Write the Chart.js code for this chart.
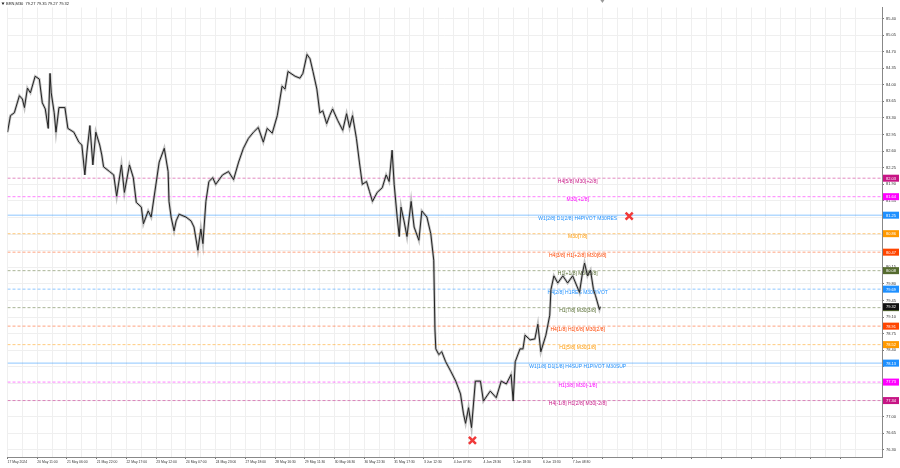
<!DOCTYPE html>
<html>
<head>
<meta charset="utf-8">
<script src="https://cdn.jsdelivr.net/npm/chart.js@4.4.1/dist/chart.umd.min.js"></script>
<style>
html, body { margin: 0; padding: 0; background: #fff; }
#wrap { width: 900px; height: 468px; }
</style>
</head>
<body>
<div id="wrap"><canvas id="c"></canvas></div>
<script>
// time labels, one every 16 trading hours (1 slot)
const timeLabels = ['17 May 2024', '20 May 11:00', '21 May 06:00', '21 May 22:00', '22 May 17:00',
    '23 May 12:00', '24 May 07:00', '24 May 23:00', '27 May 18:00', '28 May 16:30', '29 May 11:30',
    '30 May 06:30', '30 May 22:30', '31 May 17:30', '3 Jun 12:30', '4 Jun 07:30', '4 Jun 23:30',
    '5 Jun 18:30', '6 Jun 13:30', '7 Jun 08:30'];

// BRN M30 price path (slot position, price)
const barSlot = [0, 0.10, 0.23, 0.40, 0.50, 0.57, 0.67, 0.77, 0.93, 1.07, 1.17, 1.27, 1.37, 1.43, 1.47, 1.57,
    1.63, 1.73, 1.93, 2.03, 2.23, 2.40, 2.50, 2.60, 2.67, 2.77, 2.87, 2.97, 3.10, 3.17, 3.23, 3.43, 3.57,
    3.67, 3.83, 3.93, 4.10, 4.23, 4.33, 4.50, 4.57, 4.73, 4.83, 5.10, 5.27, 5.40, 5.43, 5.50, 5.60, 5.67,
    5.77, 6.00, 6.17, 6.27, 6.40, 6.50, 6.57, 6.67, 6.77, 6.90, 7.00, 7.23, 7.43, 7.60, 7.77, 7.93, 8.10,
    8.27, 8.43, 8.60, 8.73, 8.90, 9.07, 9.23, 9.33, 9.43, 9.67, 9.83, 9.93, 10.07, 10.17, 10.27, 10.40,
    10.50, 10.60, 10.73, 10.83, 10.93, 11.10, 11.27, 11.40, 11.50, 11.60, 11.73, 11.83, 11.93, 12.07,
    12.17, 12.27, 12.43, 12.60, 12.73, 12.83, 12.93, 13.00, 13.10, 13.17, 13.23, 13.33, 13.43, 13.57,
    13.67, 13.83, 13.93, 14.10, 14.23, 14.33, 14.37, 14.40, 14.50, 14.60, 14.73, 14.90, 15.07, 15.23,
    15.33, 15.40, 15.50, 15.60, 15.73, 15.90, 16.00, 16.23, 16.43, 16.60, 16.77, 16.93, 17.00, 17.07,
    17.23, 17.33, 17.40, 17.57, 17.73, 17.83, 17.93, 18.10, 18.23, 18.27, 18.37, 18.50, 18.67, 18.83,
    19.00, 19.23, 19.33, 19.40, 19.50, 19.60, 19.70, 19.77, 19.90, 19.93];
const barPrice = [83.00, 83.35, 83.41, 83.77, 83.70, 83.52, 83.93, 83.83, 84.18, 84.12, 83.62, 83.49, 83.08,
    84.24, 83.83, 83.41, 83.00, 83.52, 83.52, 83.08, 83.00, 82.79, 82.73, 82.10, 82.58, 83.14, 82.31, 83.00,
    82.73, 82.52, 82.27, 82.17, 82.10, 81.65, 82.31, 81.73, 82.31, 82.04, 81.52, 81.42, 81.07, 81.34, 81.21,
    82.37, 82.66, 82.17, 81.54, 81.21, 80.92, 81.13, 81.27, 81.21, 81.13, 81.00, 80.51, 80.96, 80.65, 81.54,
    81.96, 82.04, 81.90, 82.10, 82.17, 82.00, 82.37, 82.66, 82.87, 83.00, 83.10, 82.79, 83.08, 82.98, 83.35,
    83.97, 83.91, 84.28, 84.18, 84.14, 84.24, 84.64, 84.55, 84.28, 83.91, 83.41, 83.45, 83.18, 83.35, 83.49,
    83.25, 83.04, 83.39, 83.10, 83.35, 82.87, 82.37, 81.90, 81.96, 81.75, 81.54, 81.73, 81.83, 82.10, 81.96,
    82.62, 81.90, 81.21, 80.80, 81.42, 81.13, 80.80, 81.54, 81.00, 80.72, 81.34, 81.21, 80.86, 80.30, 78.85,
    78.43, 78.31, 78.37, 78.16, 77.96, 77.75, 77.48, 77.06, 76.86, 77.19, 76.77, 77.75, 77.75, 77.33, 77.54,
    77.40, 77.75, 77.69, 77.89, 77.33, 78.16, 78.43, 78.43, 78.72, 78.62, 78.64, 78.95, 78.37, 78.72, 79.14,
    79.68, 79.97, 79.82, 79.97, 79.82, 79.97, 79.62, 80.03, 80.24, 79.97, 80.09, 79.68, 79.55, 79.26, 79.32];

// Murrey levels
const levelPrice = [82.03, 81.64, 81.25, 80.86, 80.47, 80.08, 79.69, 79.30, 78.91, 78.52, 78.13, 77.73, 77.34];
const levelText = ['H4[5/8] M30[+2/8]', 'M30[+1/8]', 'W1[2/8] D1[2/8] H4PIVOT M30RES', 'M30[7/8]',
    'H4[3/8] H1[+2/8] M30[6/8]', 'H1[+1/8] M30[5/8]', 'H4[2/8] H1RES M30PIVOT', 'H1[7/8] M30[3/8]',
    'H4[1/8] H1[6/8] M30[2/8]', 'H1[5/8] M30[1/8]', 'W1[1/8] D1[1/8] H4SUP H1PIVOT M30SUP',
    'H1[3/8] M30[-1/8]', 'H4[-1/8] H1[2/8] M30[-2/8]'];
const levelColor = ['#c71585', '#ff00ff', '#1e90ff', '#ff9900', '#ff4500', '#556b2f', '#1e90ff', '#556b2f',
    '#ff4500', '#ff9900', '#1e90ff', '#ff00ff', '#c71585'];
const levelSolid = [false, false, true, false, false, false, false, false, false, false, true, false, false];

// red crosses
const crossSlot = [20.9, 15.63];
const crossPrice = [81.23, 76.50];

const lastPrice = 79.32;
const quoteText = 'BRN,M30  79.27 79.35 79.27 79.32';

const FONT = 'Liberation Sans';
const textSlot = 19.17;
const shiftSlot = 20.0;
const xMax = 29.4;

const levelPlugin = {
    id: 'levelPlugin',
    beforeDatasetsDraw(chart) {
        const { ctx, scales: { x, y } } = chart;
        ctx.save();
        ctx.font = '5px "' + FONT + '"';
        ctx.textAlign = 'center';
        ctx.textBaseline = 'middle';
        levelPrice.forEach((p, i) => {
            ctx.fillStyle = levelColor[i];
            ctx.fillText(levelText[i], x.getPixelForValue(textSlot), y.getPixelForValue(p) + 3.2);
        });
        ctx.restore();
    },
    afterDraw(chart) {
        const { ctx, chartArea, scales: { x, y } } = chart;
        ctx.save();
        ctx.font = '4px "' + FONT + '"';
        ctx.textAlign = 'center';
        ctx.textBaseline = 'middle';
        const box = (p, col) => {
            const py = y.getPixelForValue(p);
            ctx.fillStyle = col;
            ctx.fillRect(chartArea.right + 1, py - 3.5, 16, 7);
            ctx.fillStyle = '#fff';
            ctx.fillText(p.toFixed(2), chartArea.right + 9, py + 0.3);
        };
        levelPrice.forEach((p, i) => box(p, levelColor[i]));
        box(lastPrice, '#111');

        // symbol header
        ctx.fillStyle = '#222';
        ctx.textAlign = 'left';
        ctx.fillText(quoteText, 6, 4);
        ctx.beginPath();
        ctx.moveTo(1.5, 2.5); ctx.lineTo(4.5, 2.5); ctx.lineTo(3, 5);
        ctx.closePath();
        ctx.fill();

        // chart shift marker
        const sx = x.getPixelForValue(shiftSlot);
        ctx.fillStyle = '#999';
        ctx.beginPath();
        ctx.moveTo(sx - 2, 0); ctx.lineTo(sx + 2, 0); ctx.lineTo(sx, 3);
        ctx.closePath();
        ctx.fill();
        ctx.restore();
    }
};

const levelSets = levelPrice.map((p, i) => ({
    type: 'line',
    data: [{ x: 0, y: p }, { x: xMax, y: p }],
    borderColor: levelColor[i] + '80',
    borderWidth: 1,
    borderDash: levelSolid[i] ? [] : [3, 2],
    pointRadius: 0,
    order: 3
}));

const pricePts = barSlot.map((s, i) => ({ x: s, y: barPrice[i] }));

new Chart(document.getElementById('c'), {
    type: 'line',
    data: {
        datasets: [
            { type: 'scatter', data: crossSlot.map((s, i) => ({ x: s, y: crossPrice[i] })),
              pointStyle: 'crossRot', pointRadius: 5, borderWidth: 2.5, borderColor: '#f03a3a', order: 0 },
            { data: pricePts, borderColor: '#222', borderWidth: 1, pointRadius: 0, tension: 0, order: 1 },
            { data: pricePts, borderColor: 'rgba(120,120,120,0.45)', borderWidth: 2.6, pointRadius: 0, tension: 0, order: 2 },
            ...levelSets
        ]
    },
    options: {
        responsive: true,
        maintainAspectRatio: false,
        animation: false,
        layout: { padding: 0 },
        plugins: { legend: { display: false }, tooltip: { enabled: false } },
        scales: {
            x: {
                type: 'linear', min: 0, max: xMax,
                border: { color: '#888' },
                grid: { color: '#efefef', tickLength: 2,
                        tickColor: c => Number.isInteger(c.tick.value) ? '#777' : 'rgba(0,0,0,0)' },
                ticks: {
                    stepSize: 0.5, autoSkip: false, maxRotation: 0, minRotation: 0, align: 'start', padding: 1,
                    color: '#333', font: { family: FONT, size: 3.4 },
                    callback: v => (Number.isInteger(v) && timeLabels[v]) ? timeLabels[v] : ''
                },
                afterFit: s => { s.height = 11; }
            },
            y: {
                position: 'right', min: 76.15, max: 85.63,
                border: { color: '#888' },
                grid: { color: '#efefef', tickLength: 2, tickColor: '#777' },
                ticks: {
                    stepSize: 0.35, includeBounds: false, padding: 2,
                    color: '#333', font: { family: FONT, size: 4 },
                    callback: v => levelPrice.some(p => v - p > -0.085 && v - p < 0.05) ? '' : v.toFixed(2)
                },
                afterFit: s => { s.width = 18; }
            }
        }
    },
    plugins: [levelPlugin]
});
</script>
</body>
</html>
